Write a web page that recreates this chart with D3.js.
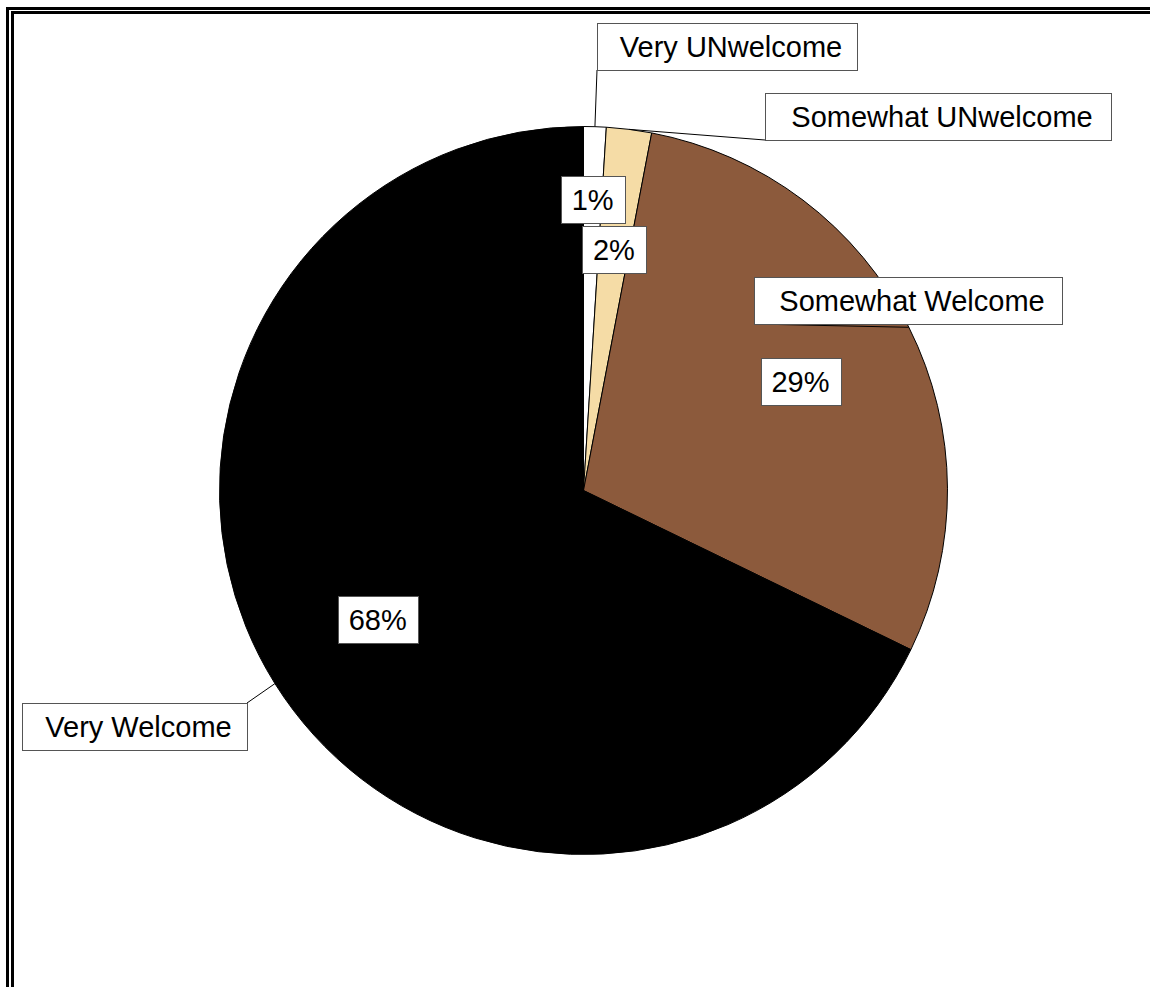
<!DOCTYPE html>
<html>
<head>
<meta charset="utf-8">
<script src="https://cdn.jsdelivr.net/npm/d3@7"></script>
<style>
  body { margin: 0; background: #fff; }
  svg { display: block; font-family: Arial, "Liberation Sans", sans-serif; }
</style>
</head>
<body>
<div id="chart"></div>
<script>
const categories = ["Very UNwelcome", "Somewhat UNwelcome", "Somewhat Welcome", "Very Welcome"];
const values = [1.0, 2.0, 29.2, 67.8];
const colors = ["#ffffff", "#f5dca6", "#8c5a3c", "#000000"];

// where the callout boxes sit (top-left corner + width), picked to match the original
const calloutBoxes = {
  "Very UNwelcome": { x: 597, y: 23, w: 260 },
  "Somewhat UNwelcome": { x: 765, y: 93, w: 346 },
  "Somewhat Welcome": { x: 754, y: 277, w: 308 },
  "Very Welcome": { x: 22, y: 703, w: 225 }
};
// percent labels pushed outward where slices are too thin
const pctRadius = { "Very UNwelcome": 0.8 };

const width = 1150, height = 987;
const cx = 583.5, cy = 490.5, r = 364;
const fontSize = 29, boxH = 47;

const svg = d3.select("#chart").append("svg")
  .attr("width", width)
  .attr("height", height);

svg.append("rect").attr("width", width).attr("height", height).attr("fill", "#fff");

// double frame, running off the right and bottom edges
svg.append("rect")
  .attr("x", 7.5).attr("y", 8.5)
  .attr("width", width + 20).attr("height", height + 20)
  .attr("fill", "none").attr("stroke", "#000").attr("stroke-width", 3);
svg.append("rect")
  .attr("x", 12.5).attr("y", 12.5)
  .attr("width", width + 20).attr("height", height + 20)
  .attr("fill", "none").attr("stroke", "#000").attr("stroke-width", 3);

const data = categories.map((c, i) => ({ name: c, value: values[i], color: colors[i] }));

const pie = d3.pie().sort(null).value(d => d.value);
const arcs = pie(data);
const arc = d3.arc().innerRadius(0).outerRadius(r);

const g = svg.append("g").attr("transform", `translate(${cx},${cy})`);

g.selectAll("path")
  .data(arcs)
  .enter()
  .append("path")
  .attr("d", arc)
  .attr("fill", d => d.data.color)
  .attr("stroke", "#000")
  .attr("stroke-width", 1);

// leader lines + category callouts
arcs.forEach(d => {
  const mid = (d.startAngle + d.endAngle) / 2;
  const px = cx + r * Math.sin(mid);
  const py = cy - r * Math.cos(mid);
  const b = calloutBoxes[d.data.name];

  const lx = (b.x + b.w / 2) > cx ? b.x : b.x + b.w;
  const ly = (b.y + boxH / 2) < py ? b.y + boxH : b.y;

  svg.append("line")
    .attr("x1", px).attr("y1", py)
    .attr("x2", lx).attr("y2", ly)
    .attr("stroke", "#000")
    .attr("stroke-width", 1);

  svg.append("rect")
    .attr("x", b.x + 0.5).attr("y", b.y + 0.5)
    .attr("width", b.w).attr("height", boxH)
    .attr("fill", "#fff")
    .attr("stroke", "#555")
    .attr("stroke-width", 1);

  svg.append("text")
    .attr("x", b.x + b.w / 2 + 4)
    .attr("y", b.y + boxH / 2 + fontSize * 0.358)
    .attr("text-anchor", "middle")
    .attr("font-size", fontSize)
    .attr("fill", "#000")
    .text(d.data.name);
});

// percent labels
arcs.forEach(d => {
  const mid = (d.startAngle + d.endAngle) / 2;
  const k = pctRadius[d.data.name] || 0.667;
  const x = cx + r * k * Math.sin(mid);
  const y = cy - r * k * Math.cos(mid);

  const lg = svg.append("g");
  const txt = lg.append("text")
    .attr("x", x)
    .attr("y", y + fontSize * 0.358)
    .attr("text-anchor", "middle")
    .attr("font-size", fontSize)
    .attr("fill", "#000")
    .text(Math.round(d.data.value) + "%");

  const tw = txt.node().getComputedTextLength();
  const bw = Math.round(tw + 22);
  lg.insert("rect", "text")
    .attr("x", Math.round(x - bw / 2) + 0.5)
    .attr("y", Math.round(y - boxH / 2) + 0.5)
    .attr("width", bw).attr("height", boxH)
    .attr("fill", "#fff")
    .attr("stroke", "#555")
    .attr("stroke-width", 1);
});
</script>
</body>
</html>
